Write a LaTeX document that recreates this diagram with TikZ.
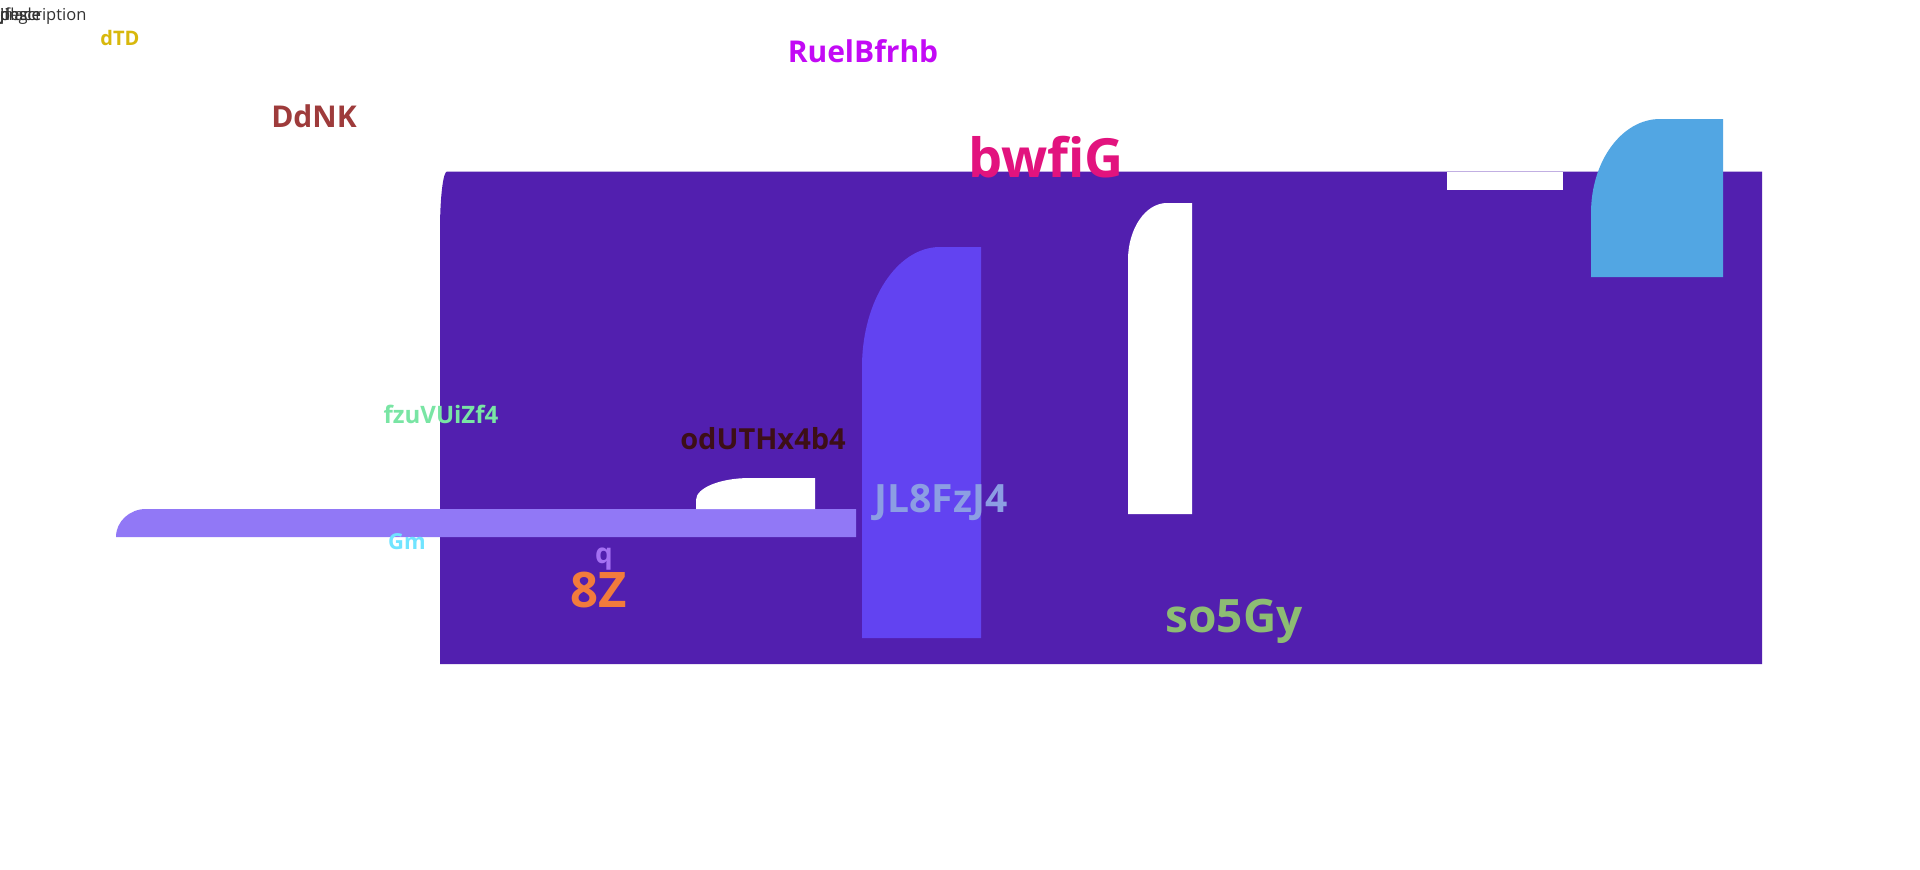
\documentclass[tikz,border=0pt]{standalone}
\usepackage{fontspec}
\setmainfont{Open Sans}
\definecolor{mainpurple}{HTML}{521FAF}
\definecolor{skyblue}{HTML}{52A6E3}
\definecolor{bluevio}{HTML}{6243F1}
\definecolor{lilac}{HTML}{9178F6}
\definecolor{cdTD}{HTML}{D8B80C}
\definecolor{cRuel}{HTML}{C30AF5}
\definecolor{cDdNK}{HTML}{9E3B3B}
\definecolor{cbwfiG}{HTML}{E2137E}
\definecolor{cfzu}{HTML}{79E5A4}
\definecolor{codU}{HTML}{3D0F17}
\definecolor{cJL}{HTML}{8C9EE3}
\definecolor{cGm}{HTML}{70E4FF}
\definecolor{cq}{HTML}{A470F2}
\definecolor{ceightZ}{HTML}{F27B3C}
\definecolor{cso}{HTML}{8DBC73}
\newcommand\tlbox[7]{\fill[#1] (#2,#5) -- (#2,{#3+#7}) .. controls (#2,{#3+0.448*#7}) and ({#2+0.448*#6},#3) .. ({#2+#6},#3) -- (#4,#3) -- (#4,#5) -- cycle;}
\tikzset{
  lbl/.style={anchor=base, inner sep=0pt, font=\bfseries},
  fs/.style={font=\fontsize{#1}{#1}\selectfont\bfseries},
  topword/.style={anchor=base west, inner sep=0pt, text=black!80, font=\fontsize{16.5}{16.5}\selectfont}
}
\begin{document}
\begin{tikzpicture}[x=1pt,y=-1pt]
\useasboundingbox (0,0) rectangle (1920,870);
\fill[white] (0,0) rectangle (1920,870);
% main body
\tlbox{mainpurple}{440}{171.5}{1762}{664}{7}{58}
\fill[white] (1447,171.5) rectangle (1563,190);
\tlbox{skyblue}{1591}{119}{1723}{277}{69}{94}
\tlbox{white}{1128}{203}{1192}{514}{39}{57}
\tlbox{bluevio}{862}{247}{981}{638}{78}{120}
\tlbox{lilac}{116}{509}{856}{537}{30}{28}
\tlbox{white}{696}{478}{815}{509}{54}{22}
% top-left overlapping words
\node[topword] (w1) at (0,20) {Jf};
\node[topword] (w2) at (0,20) {jingle};
\node[topword] (w3) at (0,20) {place};
\node[topword] (w4) at (0,20) {description};
% labels
\node[lbl, fs=20, text=cdTD] (dTD) at (120,45) {dTD};
\node[lbl, fs=30, text=cRuel] (ruel) at (863,62) {RuelBfrhb};
\node[lbl, fs=30, text=cDdNK] (ddnk) at (314,127) {DdNK};
\node[lbl, fs=54, text=cbwfiG] (bwfig) at (1046,177) {bwfiG};
\node[lbl, fs=24, text=cfzu] (fzu) at (441,423) {fzuVUiZf4};
\node[lbl, fs=29, text=codU] (odu) at (763,449) {odUTHx4b4};
\node[lbl, fs=39, text=cJL] (jl) at (941,512) {JL8FzJ4};
\node[lbl, fs=22, text=cGm] (gm) at (407,549) {Gm};
\node[lbl, fs=28, text=cq] (q) at (604,563) {q};
\node[lbl, fs=49, text=ceightZ] (ez) at (599,607) {8Z};
\node[lbl, fs=46, text=cso] (so) at (1234,632) {so5Gy};
\end{tikzpicture}
\end{document}
